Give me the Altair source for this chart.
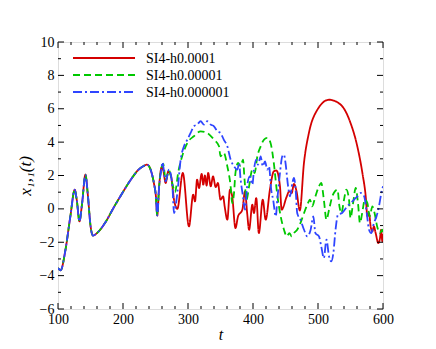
import altair as alt
import pandas as pd

# ---- data ----
common_t = [100, 104, 111.5, 119, 125.8, 129, 133, 137, 142.2, 146, 150, 153.8, 160, 173, 186, 199, 212, 224, 231, 237, 242, 247.5, 250.5, 252.7, 255.5, 259.5]
common_y = [-3.55, -3.68, -2.45, -0.45, 1.15, 0.5, -0.75, 0.3, 2.05, 0.8, -1.0, -1.6, -1.45, -0.8, 0.1, 0.95, 1.75, 2.35, 2.55, 2.65, 2.4, 1.55, 0.8, -0.4, 1.3, 2.5]

red_t = [262, 265.6, 269.7, 274, 278.5, 283.6, 292, 301.5, 308, 310.8, 314, 317, 321, 323.6, 326, 328.7, 331, 335, 338.5, 342.6, 346, 350, 354, 356.4, 360.5, 364.6, 368, 373, 377, 383.6, 387.7, 391, 394, 399, 401.5, 405, 409, 415, 419.5, 426, 432, 436, 441.5, 444, 452, 455.6, 459.5, 463, 467, 472, 478.4, 486, 499, 517, 535, 550, 560.5, 568.3, 573.4, 576, 578.5, 581, 583.6, 586, 588.7, 592.8, 595.4, 597, 599, 600]
red_y = [2.3, 1.55, 2.25, 1.95, 0.55, 0.0, 2.15, -1.05, 0.85, 0.45, 1.75, 1.25, 2.1, 1.45, 2.0, 1.4, 2.15, 1.35, 1.95, 1.3, 1.55, 0.55, 0.75, 0.15, -0.65, 1.15, 0.75, -1.15, -0.45, -0.05, 1.05, -0.25, -1.25, 0.25, -0.25, 0.65, -1.45, 0.55, -0.65, 1.15, 2.25, 2.3, 1.35, -0.05, 0.75, 1.05, 0.95, 1.5, 1.05, -0.1, 2.75, 4.55, 5.94, 6.54, 6.24, 5.15, 3.74, 2.15, 0.75, -0.45, -0.25, -1.05, -1.35, -1.05, -1.45, -2.05, -1.75, -1.25, -1.95, -1.5]

green_t = [262, 265.6, 270.8, 276, 280, 285, 291, 299, 309, 319.5, 329.7, 340, 347.7, 350, 355, 360.5, 365.6, 368, 370.8, 373, 377, 381, 384.6, 387, 390, 394, 399, 402.5, 406.7, 411.8, 417, 422, 427, 432, 437, 442.6, 447.7, 452, 456, 459.5, 463, 468, 473, 478.5, 483.6, 487.7, 491, 496, 501.5, 505, 509, 513, 517, 522, 526, 530, 533, 536, 540, 543.6, 547.7, 550, 554, 558, 561.5, 564.6, 568, 572, 576, 579.5, 583.6, 587, 591, 595, 599, 600]
green_y = [2.7, 1.7, 2.3, 1.5, 1.0, 2.2, 3.15, 3.95, 4.35, 4.65, 4.55, 4.15, 3.75, 3.15, 3.35, 2.55, 1.35, 0.35, 0.95, 2.15, 2.75, 2.55, 2.95, 1.75, 0.55, 1.35, 2.35, 2.15, 3.15, 3.75, 4.15, 4.25, 3.95, 2.75, 0.95, -0.45, -1.25, -1.65, -1.45, -1.65, -1.45, -1.25, -0.85, -0.25, 0.25, 0.55, 0.15, 0.75, 1.35, 1.55, 0.55, -0.65, -0.05, 0.75, 1.05, 1.15, 0.15, -0.25, 0.55, 1.15, 0.55, -0.55, 0.35, 1.25, 0.35, -0.85, -0.25, 0.55, 0.35, -0.45, 0.15, -0.25, -1.05, -1.45, -1.25, -1.4]

blue_t = [260.5, 265.6, 270.8, 276, 278.5, 283.6, 288.7, 293.8, 299, 304, 309, 314, 319.5, 324.6, 329.7, 335, 340, 345, 350, 355, 360.5, 365.6, 370.8, 376, 378.5, 381, 384.6, 387.7, 391, 395, 399, 401.5, 405, 407.7, 411.8, 415, 418.5, 422, 424.6, 428, 431, 435, 437.4, 441.5, 445, 447.7, 450, 454, 457, 460.5, 463, 465.6, 468, 473, 478.5, 483.6, 488.7, 492.8, 496, 501.5, 505, 509, 513, 517, 520.5, 523.6, 527, 530.7, 537, 545, 553, 560.5, 565.6, 571, 575, 578.5, 582, 586, 590, 593.8, 597.4, 600]
blue_y = [2.8, 1.65, 2.35, 1.35, -0.25, 0.95, 2.95, 3.75, 4.15, 4.55, 4.95, 5.05, 5.25, 5.05, 5.25, 5.05, 4.95, 4.65, 4.55, 4.15, 3.75, 2.95, 2.55, 2.35, 2.75, 1.75, 0.75, -0.05, 1.35, 1.95, 1.45, 2.35, 2.95, 2.65, 3.15, 2.55, 2.85, 2.35, 2.55, 1.15, 0.55, -0.45, 0.55, 2.15, 3.15, 3.25, 2.75, 1.35, 0.75, 1.55, 1.85, 1.15, -0.25, -0.65, -1.25, -1.65, -1.25, -0.45, -1.45, -1.65, -2.25, -2.95, -1.85, -2.85, -3.15, -2.65, -1.25, -0.35, -0.25, 0.15, 0.45, 0.75, 0.95, 0.75, -0.25, -1.25, -1.45, -0.85, -0.45, 0.15, 0.95, 1.35]

series_names = ["SI4-h0.0001", "SI4-h0.00001", "SI4-h0.000001"]
series_colors = ["#d40000", "#00c800", "#2f45ff"]
series_dashes = [[1, 0], [7, 4], [9, 3, 2, 3]]

x_major = [100, 200, 300, 400, 500, 600]
x_minor = [v for v in range(120, 600, 20) if v % 100 != 0]
y_major = [-6, -4, -2, 0, 2, 4, 6, 8, 10]
y_minor = [-5, -3, -1, 1, 3, 5, 7, 9]

# ---- build table ----
rows = []
for i, (name, ts, ys) in enumerate(zip(series_names, [red_t, green_t, blue_t], [red_y, green_y, blue_y])):
    for t, y in zip(common_t + ts, common_y + ys):
        rows.append({"series": name, "order": i, "t": t, "y": y})
df = pd.DataFrame(rows)

W, H = 325, 267
FONT = "Liberation Serif"
xscale = alt.Scale(domain=[100, 600], nice=False, zero=False)
yscale = alt.Scale(domain=[-6, 10], nice=False, zero=False)

xaxis = alt.Axis(values=x_major, ticks=False, domain=False, grid=False, title="t",
                 titleFontStyle="italic", titleFontWeight="normal", titleFontSize=16,
                 labelFontSize=14, labelPadding=3, titlePadding=0, labelFlush=False)
yaxis = alt.Axis(values=y_major, ticks=False, domain=False, grid=False, title="x₁,₁(t)",
                 titleFontStyle="italic", titleFontWeight="normal", titleFontSize=17,
                 labelFontSize=14, labelPadding=4, titlePadding=5, labelFlush=False)

lines = alt.Chart(df).mark_line(strokeWidth=1.8, interpolate="monotone", clip=True).encode(
    x=alt.X("t:Q", scale=xscale, axis=xaxis),
    y=alt.Y("y:Q", scale=yscale, axis=yaxis),
    color=alt.Color("series:N", scale=alt.Scale(domain=series_names, range=series_colors), legend=None),
    strokeDash=alt.StrokeDash("series:N", scale=alt.Scale(domain=series_names, range=series_dashes), legend=None),
    order=alt.Order("order:Q"),
    detail="series:N",
)


def tick_layer(values, side, length):
    base = alt.Chart(pd.DataFrame({"t": values, "y": values})).mark_rule(color="black", strokeWidth=1)
    if side == "bottom":
        return base.encode(x=alt.X("t:Q", scale=xscale, axis=xaxis), y=alt.value(H), y2=alt.value(H - length))
    if side == "top":
        return base.encode(x=alt.X("t:Q", scale=xscale, axis=xaxis), y=alt.value(0), y2=alt.value(length))
    if side == "left":
        return base.encode(y=alt.Y("y:Q", scale=yscale, axis=yaxis), x=alt.value(0), x2=alt.value(length))
    return base.encode(y=alt.Y("y:Q", scale=yscale, axis=yaxis), x=alt.value(W), x2=alt.value(W - length))


tick_layers = []
for side in ["bottom", "top"]:
    tick_layers.append(tick_layer(x_major, side, 6))
    tick_layers.append(tick_layer(x_minor, side, 3))
for side in ["left", "right"]:
    tick_layers.append(tick_layer(y_major, side, 6))
    tick_layers.append(tick_layer(y_minor, side, 3))

# ---- legend drawn by hand (top-left inside the plot) ----
legend_layers = []
for i, (name, col, dash) in enumerate(zip(series_names, series_colors, series_dashes)):
    yy = 16 + 17 * i
    one = alt.Chart(pd.DataFrame({"label": [name]}))
    legend_layers.append(one.mark_rule(color=col, strokeWidth=1.8, strokeDash=dash).encode(
        x=alt.value(15), x2=alt.value(77), y=alt.value(yy)))
    legend_layers.append(one.mark_text(align="left", baseline="middle", font=FONT, fontSize=14,
                                       color="black").encode(
        x=alt.value(88), y=alt.value(yy + 1), text="label:N"))

chart = alt.layer(lines, *tick_layers, *legend_layers).properties(
    width=W, height=H,
    autosize=alt.AutoSizeParams(type="none"),
    padding={"left": 50, "top": 34, "right": 44, "bottom": 32},
).configure_view(stroke="black", strokeWidth=1.6).configure(
    font=FONT
).configure_axis(labelFont=FONT, titleFont=FONT, labelColor="black", titleColor="black")

chart.save("out.html", embed_options={"renderer": "svg", "actions": False})
